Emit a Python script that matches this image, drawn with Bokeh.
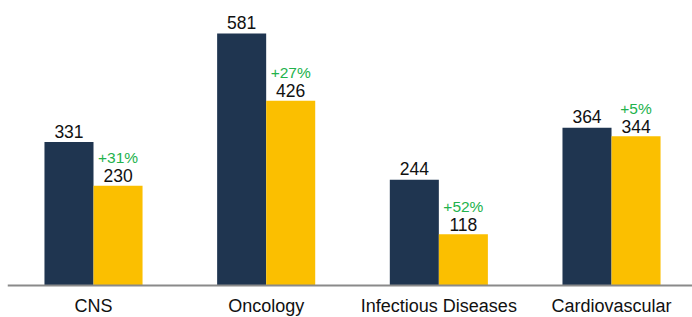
from bokeh.plotting import figure
from bokeh.models import ColumnDataSource, Range1d, Span
from bokeh.core.properties import value
from bokeh.embed import file_html
from bokeh.resources import INLINE

categories = ["CNS", "Oncology", "Infectious Diseases", "Cardiovascular"]
series_a = [331, 581, 244, 364]
series_b = [230, 426, 118, 344]
growth = ["+31%", "+27%", "+52%", "+5%"]

dark = "#1F3550"
yellow = "#FBBF00"
green = "#22B24C"
font = "Liberation Sans"

bw = 0.284
xs = list(range(len(categories)))
xa = [x - bw / 2 for x in xs]
xb = [x + bw / 2 for x in xs]

src = ColumnDataSource(dict(
    xa=xa, xb=xb, a=series_a, b=series_b,
    la=[str(v) for v in series_a], lb=[str(v) for v in series_b], g=growth,
))
cat_src = ColumnDataSource(dict(x=xs, y=[0] * len(xs), c=categories))

p = figure(width=692, height=317, output_backend="svg", toolbar_location=None,
           x_range=Range1d(-0.4981, 3.469), y_range=Range1d(-73.8, 657.4),
           min_border_left=7, min_border_right=0, min_border_top=0, min_border_bottom=0)
p.outline_line_color = None
p.grid.visible = False
p.xaxis.visible = False
p.yaxis.visible = False
p.background_fill_color = "white"
p.border_fill_color = "white"

p.vbar(x="xa", top="a", width=bw, bottom=0, source=src, fill_color=dark, line_color=None)
p.vbar(x="xb", top="b", width=bw, bottom=0, source=src, fill_color=yellow, line_color=None)

p.add_layout(Span(location=0, dimension="width", line_color="#8A8A8A", line_width=2))

p.text(x="xa", y="a", text="la", source=src, text_align="center", text_baseline="alphabetic",
       y_offset=-11, text_font=value(font), text_font_size="17.5px", text_color="#111111")
p.text(x="xb", y="b", text="lb", source=src, text_align="center", text_baseline="alphabetic",
       y_offset=-10, text_font=value(font), text_font_size="17.5px", text_color="#111111")
p.text(x="xb", y="b", text="g", source=src, text_align="center", text_baseline="alphabetic",
       y_offset=-28, text_font=value(font), text_font_size="15.5px", text_color=green)
p.text(x="x", y="y", text="c", source=cat_src, text_align="center", text_baseline="alphabetic",
       y_offset=20, text_font=value(font), text_font_size="18px", text_color="#111111")

open("out.html", "w").write(file_html(p, INLINE))
